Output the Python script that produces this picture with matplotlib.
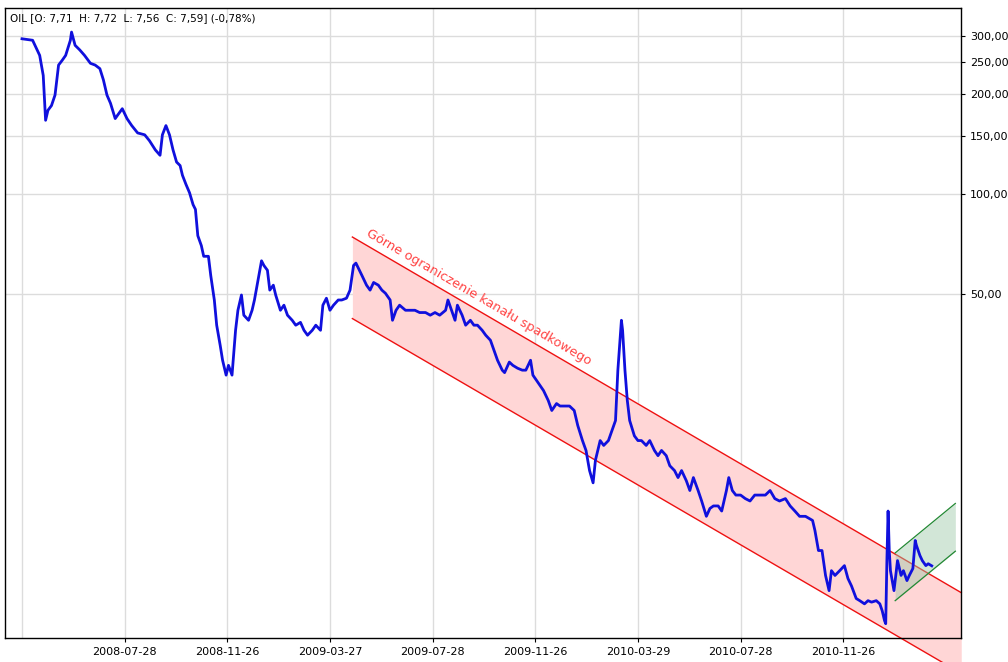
import numpy as np
import pandas as pd
import matplotlib
matplotlib.use("Agg")
import matplotlib.pyplot as plt
from matplotlib.ticker import FixedLocator, NullLocator

# trading-day index (from 2008-03-27) and closing prices
days = [0,9,15,18,20,22,25,28,31,34,37,41,42,45,49,53,58,62,66,69,72,75,79,81,85,89,93,98,104,108,113,117,119,122,125,128,131,134,136,139,142,145,147,149,152,154,158,160,163,165,168,170,173,175,178,181,183,186,188,192,195,197,200,203,205,208,210,213,215,219,222,225,229,232,236,239,242,246,249,253,255,258,261,264,268,271,275,278,281,283,286,288,292,295,298,302,305,308,312,314,317,320,325,329,333,337,342,346,350,354,359,361,364,367,369,373,376,380,383,386,390,393,397,400,403,407,409,413,416,420,424,427,431,433,436,439,442,446,449,453,456,460,464,468,471,475,478,481,484,486,490,493,497,500,503,505,508,509,511,513,515,519,522,525,529,532,536,539,542,546,549,553,556,559,563,566,569,573,576,580,583,586,590,593,597,599,602,605,609,613,617,621,625,630,634,638,642,647,651,655,659,664,670,672,675,678,681,684,686,689,693,697,700,703,707,710,714,717,720,724,727,729,731,732,733,734,735,736,739,741,742,745,747,750,752,755,757,758,761,763,766,768,771]
close = [294,291,262,228,167,179,185,199,245,253,262,291,308,281,272,262,248,245,239,221,199,188,169,173,181,169,161,153,151,145,136,131,151,161,151,136,125,122,114,107,101,93,90,75,70,65,65,56.8,48,40.3,35,31.6,28.5,30.5,28.5,38.9,44.7,49.7,43.2,41.7,44.7,48,55,63,61,59,51.4,53.2,49.7,44.7,46.3,43.2,41.7,40.3,41.1,38.9,37.6,38.9,40.3,38.9,46.3,48.6,44.7,46.3,48,48,48.6,51.4,61,62,59,57,53.2,51.4,54.2,53.2,51.4,50.3,48,41.7,44.7,46.3,44.7,44.7,44.7,44,44,43.2,44,43.2,44.7,48,44.7,41.7,46.3,43.2,40.3,41.7,40.3,40.3,38.9,37.6,36.3,33.9,31.6,29.5,29,31.2,30.5,29.9,29.5,29.5,31.6,28.5,27.5,26.5,25.6,23.9,22.3,23.4,23,23,23,22.3,20.1,18.1,16.9,14.7,13.5,15.8,18.1,17.5,18.1,19.4,20.8,29.5,41.7,38.9,29.5,23.9,20.8,18.7,18.1,18.1,17.5,18.1,16.9,16.3,16.9,16.3,15.2,14.7,14,14.7,13.7,12.8,14,12.8,11.9,10.7,11.3,11.5,11.5,11.1,12.8,14,12.8,12.4,12.4,12.1,11.9,12.4,12.4,12.4,12.8,12.1,11.9,12.1,11.5,11.1,10.7,10.7,10.4,9.7,8.44,8.44,7.1,6.39,7.34,7.1,7.34,7.6,6.95,6.6,6.05,5.96,5.83,5.96,5.9,5.96,5.83,5.56,5.19,5.08,7.87,11.1,8.44,7.34,6.39,7.34,7.87,7.1,7.34,6.85,7.1,7.45,9.05,8.75,8.15,7.87,7.6,7.7,7.59]

tick_dates = ["2008-07-28","2008-11-26","2009-03-27","2009-07-28","2009-11-26","2010-03-29","2010-07-28","2010-11-26"]
yticks = [300,250,200,150,100,50]
ytick_labels = ["300,00","250,00","200,00","150,00","100,00","50,00"]

# channel lines (day, value)
red_upper = ([280, 796], [74.3, 6.3])
red_lower = ([280, 796], [42.2, 3.6])
green_upper = ([740, 791], [8.3, 11.7])
green_lower = ([740, 791], [5.96, 8.4])

start = pd.Timestamp("2008-03-27")
def bday_index(d):
    return len(pd.bdate_range(start, pd.Timestamp(d))) - 1
tick_pos = [bday_index(d) for d in tick_dates]

fig = plt.figure(figsize=(10.08, 6.62), dpi=100)
ax = fig.add_axes([5/1008, 1-638/662, 956/1008, 630/662])
ax.set_yscale("log")
ax.set_ylim(4.6, 364)
ax.set_xlim(-14.4, 795.8)

# red channel fill (extends beyond axes)
ax.fill_between(red_upper[0], red_upper[1], red_lower[1], color="#ffd6d6", lw=0, clip_on=False, zorder=1)
ax.plot(*red_upper, color="#ee1111", lw=1, clip_on=False, zorder=2)
ax.plot(red_lower[0] + [830], red_lower[1] + [3.0], color="#ee1111", lw=1, clip_on=False, zorder=2)
# green channel
ax.fill_between(green_upper[0], green_upper[1], green_lower[1], color="#9dc8a8", alpha=0.45, lw=0, zorder=2)
ax.plot(*green_upper, color="#228833", lw=0.9, zorder=3)
ax.plot(*green_lower, color="#228833", lw=0.9, zorder=3)

ax.plot(days, close, color="#1010dd", lw=2.0, zorder=4)

ax.text(387, 49.0, "Górne ograniczenie kanału spadkowego", color="#ff4444",
        fontsize=9.3, rotation=-30.2, ha="center", va="center", zorder=5)

ax.yaxis.tick_right()
ax.yaxis.set_major_locator(FixedLocator(yticks))
ax.set_yticklabels(ytick_labels, fontsize=8)
ax.yaxis.set_minor_locator(NullLocator())
ax.set_xticks(tick_pos)
ax.set_xticklabels(tick_dates, fontsize=8)
ax.set_xticks([0], minor=True)
ax.tick_params(axis="x", which="minor", length=0)
ax.grid(True, which="both", color="#dcdcdc", lw=1, zorder=0)
ax.set_axisbelow(True)
ax.tick_params(length=3)
for s in ax.spines.values():
    s.set_linewidth(1)

ax.text(0.005, 0.992, "OIL [O: 7,71  H: 7,72  L: 7,56  C: 7,59] (-0,78%)", transform=ax.transAxes,
        fontsize=7.5, va="top", ha="left")

fig.savefig("out.png", dpi=100)
